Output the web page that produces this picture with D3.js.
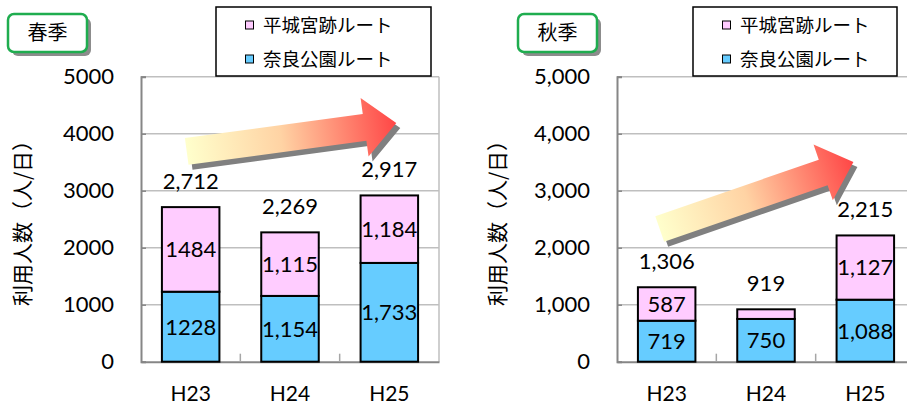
<!DOCTYPE html>
<html>
<head>
<meta charset="utf-8">
<script src="https://cdn.jsdelivr.net/npm/d3@7"></script>
<style>
  html, body { margin: 0; padding: 0; background: #fff; }
  svg { display: block; }
</style>
</head>
<body>
<svg id="chart" width="907" height="410"></svg>
<script>
// Shared categories and series names
const categories = ["H23", "H24", "H25"];
const seriesNames = ["平城宮跡ルート", "奈良公園ルート"];

// Spring (春季) daily users
const springNara = [1228, 1154, 1733];
const springHeijo = [1484, 1115, 1184];
// Autumn (秋季) daily users
const autumnNara = [719, 750, 1088];
const autumnHeijo = [587, 169, 1127];

// Y axis ticks
const yTicks = [0, 1000, 2000, 3000, 4000, 5000];

// Trend arrows, given as [category position, value] for tail and tip
const springArrow = { tail: [-0.04, 3688], tip: [2.07, 4188] };
const autumnArrow = { tail: [-0.07, 2328], tip: [1.88, 3504] };

const colors = { heijo: "#ffccff", nara: "#66ccff" };
const numFont = "Lato, 'Open Sans', sans-serif";
const jpFont = "'Noto Sans CJK JP', 'Noto Sans', sans-serif";

const svg = d3.select("#chart");

// Arrow gradient, light yellow to red
const defs = svg.append("defs");
const grad = defs.append("linearGradient").attr("id", "arrowGrad")
  .attr("gradientUnits", "objectBoundingBox").attr("x1", 0).attr("x2", 1).attr("y1", 0).attr("y2", 0);
grad.append("stop").attr("offset", "0%").attr("stop-color", "#ffffcc");
grad.append("stop").attr("offset", "45%").attr("stop-color", "#ffd3a4");
grad.append("stop").attr("offset", "100%").attr("stop-color", "#ff4646");

function drawPanel(cfg) {
  const g = svg.append("g");
  const x = d3.scaleBand().domain(categories).range([cfg.x0, cfg.x1]).padding(0);
  const xc = d3.scaleLinear().domain([0, 1]).range([x(categories[0]) + x.bandwidth() / 2, x(categories[1]) + x.bandwidth() / 2]);
  const y = d3.scaleLinear().domain([0, 5000]).range([361.7, 76.7]);
  const barW = 57.5;

  // Gridlines
  g.selectAll(".grid").data(yTicks.slice(1)).join("line")
    .attr("x1", cfg.x0).attr("x2", cfg.x1)
    .attr("y1", d => y(d)).attr("y2", d => y(d))
    .attr("stroke", "#bfbfbf").attr("stroke-width", 1.5);
  // Right border of plot area
  if (cfg.rightBorder) {
    g.append("line").attr("x1", cfg.x1).attr("x2", cfg.x1).attr("y1", y(5000)).attr("y2", y(0))
      .attr("stroke", "#bfbfbf").attr("stroke-width", 1.5);
  }

  // Y axis
  const yAxis = d3.axisLeft(y).tickValues(yTicks).tickSize(-5).tickPadding(27)
    .tickFormat(cfg.tickFormat);
  const ya = g.append("g").attr("transform", `translate(${cfg.x0},0)`).call(yAxis);
  ya.select(".domain").attr("stroke", "#868686").attr("stroke-width", 2);
  ya.selectAll(".tick line").attr("stroke", "#868686").attr("stroke-width", 1.5);
  ya.selectAll(".tick text").attr("font-family", numFont).attr("font-size", 22).attr("fill", "#000");

  // X axis
  const xAxis = d3.axisBottom(x).tickSize(0).tickPadding(24);
  const xa = g.append("g").attr("transform", `translate(0,${y(0)})`).call(xAxis);
  xa.select(".domain").attr("stroke", "#868686").attr("stroke-width", 2);
  xa.selectAll(".tick text").attr("font-family", numFont).attr("font-size", 21).attr("fill", "#000");
  // Category separators
  g.selectAll(".sep").data(categories.slice(1)).join("line")
    .attr("x1", d => x(d)).attr("x2", d => x(d))
    .attr("y1", y(0)).attr("y2", y(0) - 8)
    .attr("stroke", "#a6a6a6").attr("stroke-width", 1.5);

  // Stacked bars
  const rows = categories.map((c, i) => ({ c, nara: cfg.nara[i], heijo: cfg.heijo[i] }));
  const stack = d3.stack().keys(["nara", "heijo"])(rows);
  stack.forEach(layer => {
    g.selectAll(null).data(layer).join("rect")
      .attr("x", d => x(d.data.c) + (x.bandwidth() - barW) / 2)
      .attr("width", barW)
      .attr("y", d => y(d[1]))
      .attr("height", d => y(d[0]) - y(d[1]))
      .attr("fill", colors[layer.key])
      .attr("stroke", "#000").attr("stroke-width", 2);
  });

  // Trend arrow with drop shadow
  const a = cfg.arrow;
  const tx = xc(a.tail[0]), ty = y(a.tail[1]);
  const px = xc(a.tip[0]), py = y(a.tip[1]);
  const L = Math.hypot(px - tx, py - ty);
  const ang = Math.atan2(py - ty, px - tx) * 180 / Math.PI;
  const hw = 13.5, HW = 29.5, hl = 32;
  const pts = [[0, -hw], [L - hl, -hw], [L - hl, -HW], [L, 0], [L - hl, HW], [L - hl, hw], [0, hw]];
  const line = d3.line();
  g.append("path").attr("d", line(pts) + "Z")
    .attr("transform", `translate(${tx + 4},${ty + 5}) rotate(${ang})`)
    .attr("fill", "#808080");
  g.append("path").attr("d", line(pts) + "Z")
    .attr("transform", `translate(${tx},${ty}) rotate(${ang})`)
    .attr("fill", "url(#arrowGrad)");

  // Segment labels
  stack.forEach(layer => {
    g.selectAll(null).data(layer.filter(d => (d[1] - d[0]) >= 300)).join("text")
      .attr("x", d => x(d.data.c) + x.bandwidth() / 2)
      .attr("y", d => y((d[0] + d[1]) / 2))
      .attr("dy", "0.36em")
      .attr("text-anchor", "middle")
      .attr("font-family", numFont).attr("font-size", 22).attr("fill", "#000")
      .text(d => cfg.plainLabels.includes(d.data.c) ? String(d[1] - d[0]) : d3.format(",")(d[1] - d[0]));
  });
  // Total labels
  g.selectAll(null).data(rows).join("text")
    .attr("x", d => x(d.c) + x.bandwidth() / 2)
    .attr("y", d => y(d.nara + d.heijo) - 26)
    .attr("dy", "0.36em")
    .attr("text-anchor", "middle")
    .attr("font-family", numFont).attr("font-size", 22).attr("fill", "#000")
    .text(d => d3.format(",")(d.nara + d.heijo));

  // Y axis title
  g.append("text")
    .attr("transform", `translate(${cfg.titleX},${218}) rotate(-90)`)
    .attr("text-anchor", "middle").attr("dy", "0.35em")
    .attr("font-family", jpFont).attr("font-size", 21).attr("fill", "#000")
    .text("利用人数（人/日）");

  // Season box with shadow
  const sb = cfg.seasonBox;
  g.append("rect").attr("x", sb.x + 4).attr("y", sb.y + 4).attr("width", sb.w).attr("height", sb.h)
    .attr("rx", 6).attr("fill", "#8c8c8c");
  g.append("rect").attr("x", sb.x).attr("y", sb.y).attr("width", sb.w).attr("height", sb.h)
    .attr("rx", 6).attr("fill", "#fff").attr("stroke", "#1fad4f").attr("stroke-width", 2.5);
  g.append("text").attr("x", sb.x + sb.w / 2).attr("y", sb.y + sb.h / 2).attr("dy", "0.35em")
    .attr("text-anchor", "middle").attr("font-family", jpFont).attr("font-size", 20).attr("fill", "#000")
    .text(cfg.season);

  // Legend
  const lb = cfg.legendBox;
  g.append("rect").attr("x", lb.x).attr("y", lb.y).attr("width", lb.w).attr("height", lb.h)
    .attr("fill", "#fff").attr("stroke", "#000").attr("stroke-width", 1.5);
  const items = [{ name: seriesNames[0], color: colors.heijo }, { name: seriesNames[1], color: colors.nara }];
  items.forEach((it, i) => {
    const cy = lb.y + 18 + i * 34;
    g.append("rect").attr("x", lb.x + 29.5).attr("y", cy - 4).attr("width", 8).attr("height", 8)
      .attr("fill", it.color).attr("stroke", "#000").attr("stroke-width", 1);
    g.append("text").attr("x", lb.x + 47).attr("y", cy).attr("dy", "0.36em")
      .attr("font-family", jpFont).attr("font-size", 18.5).attr("fill", "#000")
      .text(it.name);
  });
}

drawPanel({
  season: "春季", nara: springNara, heijo: springHeijo, arrow: springArrow,
  x0: 141, x1: 439, rightBorder: true, tickFormat: d3.format("d"), titleX: 23,
  plainLabels: ["H23"],
  seasonBox: { x: 8, y: 14, w: 79, h: 38 },
  legendBox: { x: 216, y: 7, w: 215, h: 69 }
});
drawPanel({
  season: "秋季", nara: autumnNara, heijo: autumnHeijo, arrow: autumnArrow,
  x0: 617, x1: 915, rightBorder: false, tickFormat: d3.format(","), titleX: 498,
  plainLabels: [],
  seasonBox: { x: 518, y: 14, w: 79, h: 38 },
  legendBox: { x: 693, y: 7, w: 204, h: 69 }
});
</script>
</body>
</html>
